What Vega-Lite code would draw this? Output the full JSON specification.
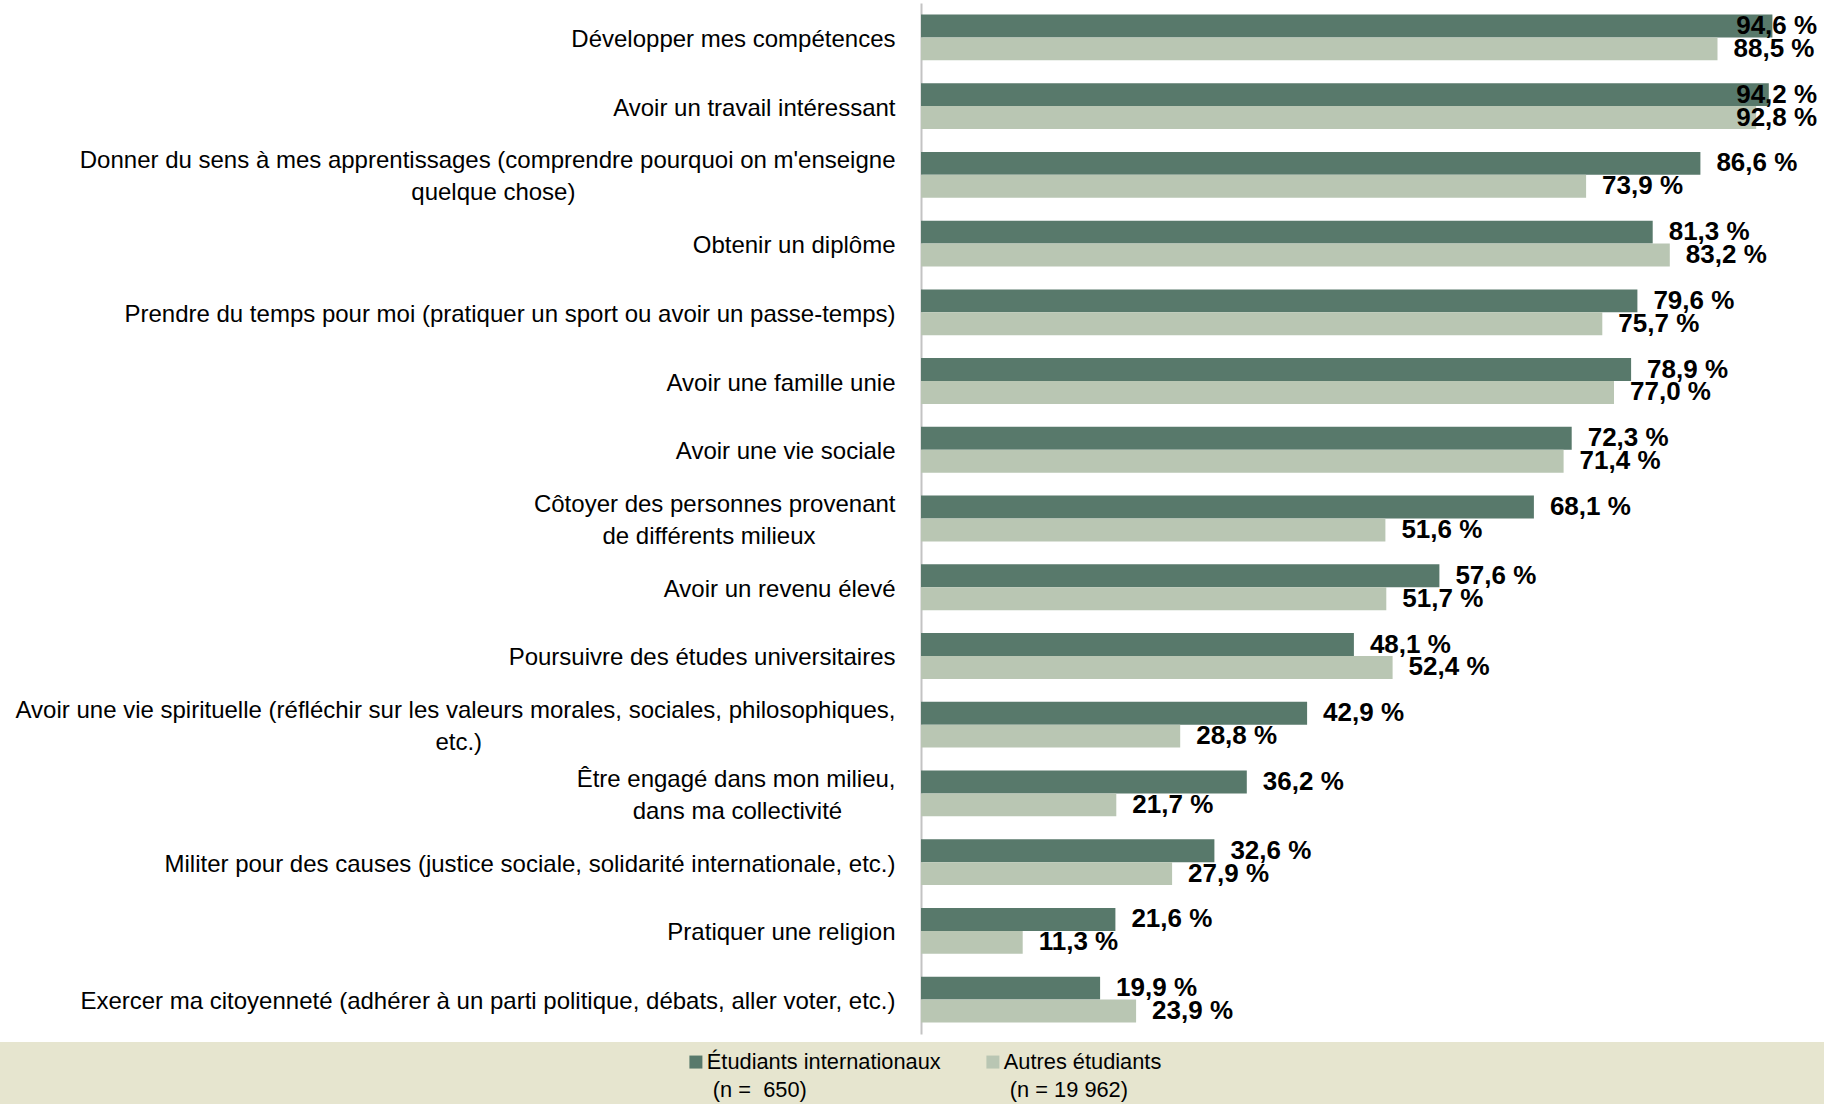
{
  "$schema": "https://vega.github.io/schema/vega-lite/v6.json",
  "padding": {"left": 0, "top": 3, "right": 0, "bottom": 0},
  "spacing": 8,
  "config": {
    "font": "Liberation Sans",
    "view": {"stroke": null},
    "locale": {"number": {"decimal": ",", "thousands": " ", "grouping": [3], "currency": ["", " %"]}}
  },
  "datasets": {
    "d": [
      {"cat": "Développer mes compétences", "series": "Étudiants internationaux", "v": 94.6},
      {"cat": "Développer mes compétences", "series": "Autres étudiants", "v": 88.5},
      {"cat": "Avoir un travail intéressant", "series": "Étudiants internationaux", "v": 94.2},
      {"cat": "Avoir un travail intéressant", "series": "Autres étudiants", "v": 92.8},
      {"cat": "Donner du sens à mes apprentissages (comprendre pourquoi on m'enseigne\nquelque chose)", "series": "Étudiants internationaux", "v": 86.6},
      {"cat": "Donner du sens à mes apprentissages (comprendre pourquoi on m'enseigne\nquelque chose)", "series": "Autres étudiants", "v": 73.9},
      {"cat": "Obtenir un diplôme", "series": "Étudiants internationaux", "v": 81.3},
      {"cat": "Obtenir un diplôme", "series": "Autres étudiants", "v": 83.2},
      {"cat": "Prendre du temps pour moi (pratiquer un sport ou avoir un passe-temps)", "series": "Étudiants internationaux", "v": 79.6},
      {"cat": "Prendre du temps pour moi (pratiquer un sport ou avoir un passe-temps)", "series": "Autres étudiants", "v": 75.7},
      {"cat": "Avoir une famille unie", "series": "Étudiants internationaux", "v": 78.9},
      {"cat": "Avoir une famille unie", "series": "Autres étudiants", "v": 77.0},
      {"cat": "Avoir une vie sociale", "series": "Étudiants internationaux", "v": 72.3},
      {"cat": "Avoir une vie sociale", "series": "Autres étudiants", "v": 71.4},
      {"cat": "Côtoyer des personnes provenant\nde différents milieux", "series": "Étudiants internationaux", "v": 68.1},
      {"cat": "Côtoyer des personnes provenant\nde différents milieux", "series": "Autres étudiants", "v": 51.6},
      {"cat": "Avoir un revenu élevé", "series": "Étudiants internationaux", "v": 57.6},
      {"cat": "Avoir un revenu élevé", "series": "Autres étudiants", "v": 51.7},
      {"cat": "Poursuivre des études universitaires", "series": "Étudiants internationaux", "v": 48.1},
      {"cat": "Poursuivre des études universitaires", "series": "Autres étudiants", "v": 52.4},
      {"cat": "Avoir une vie spirituelle (réfléchir sur les valeurs morales, sociales, philosophiques,\netc.)", "series": "Étudiants internationaux", "v": 42.9},
      {"cat": "Avoir une vie spirituelle (réfléchir sur les valeurs morales, sociales, philosophiques,\netc.)", "series": "Autres étudiants", "v": 28.8},
      {"cat": "Être engagé dans mon milieu,\ndans ma collectivité", "series": "Étudiants internationaux", "v": 36.2},
      {"cat": "Être engagé dans mon milieu,\ndans ma collectivité", "series": "Autres étudiants", "v": 21.7},
      {"cat": "Militer pour des causes (justice sociale, solidarité internationale, etc.)", "series": "Étudiants internationaux", "v": 32.6},
      {"cat": "Militer pour des causes (justice sociale, solidarité internationale, etc.)", "series": "Autres étudiants", "v": 27.9},
      {"cat": "Pratiquer une religion", "series": "Étudiants internationaux", "v": 21.6},
      {"cat": "Pratiquer une religion", "series": "Autres étudiants", "v": 11.3},
      {"cat": "Exercer ma citoyenneté (adhérer à un parti politique, débats, aller voter, etc.)", "series": "Étudiants internationaux", "v": 19.9},
      {"cat": "Exercer ma citoyenneté (adhérer à un parti politique, débats, aller voter, etc.)", "series": "Autres étudiants", "v": 23.9}
    ]
  },
  "vconcat": [
    {
      "spacing": 26,
      "hconcat": [
        {
          "width": 895,
          "height": 1031,
          "data": {"name": "d"},
          "transform": [{"filter": "datum.series == 'Étudiants internationaux'"}],
          "mark": {"type": "point", "opacity": 0},
          "encoding": {
            "y": {
              "field": "cat",
              "type": "nominal",
              "sort": null,
              "scale": {"paddingInner": 0.333, "paddingOuter": 0.1667},
              "axis": {
                "orient": "right",
                "title": null,
                "domain": false,
                "ticks": false,
                "tickSize": 0,
                "grid": false,
                "labelPadding": 0,
                "labelAlign": "right",
                "labelBaseline": "middle",
                "labelFontSize": 24,
                "labelColor": "#000000",
                "labelLimit": 900,
                "labelLineHeight": 32,
                "labelOffset": {"condition": {"test": "indexof(datum.value, '\\n') >= 0", "value": -14}, "value": 2},
                "labelExpr": "length(split(datum.label, '\\n')) > 1 ? [split(datum.label, '\\n')[0], pad(split(datum.label, '\\n')[1], length(split(datum.label, '\\n')[1]) + (indexof(datum.label, 'Donner') == 0 ? 48 : indexof(datum.label, 'Côtoyer') == 0 ? 12 : indexof(datum.label, 'Avoir une vie') == 0 ? 62 : 8), '\u00a0') + '\u200b'] : datum.label"
              }
            }
          }
        },
        {
          "width": 900,
          "height": 1031,
          "data": {"name": "d"},
          "encoding": {
            "y": {
              "field": "cat",
              "type": "nominal",
              "sort": null,
              "scale": {"paddingInner": 0.333, "paddingOuter": 0.1667},
              "axis": {
                "title": null,
                "labels": false,
                "ticks": false,
                "grid": false,
                "domainColor": "#c3c3c3",
                "domainWidth": 2
              }
            },
            "yOffset": {
              "field": "series",
              "type": "nominal",
              "sort": ["Étudiants internationaux", "Autres étudiants"],
              "scale": {"paddingInner": 0, "paddingOuter": 0}
            }
          },
          "layer": [
            {
              "mark": {"type": "bar"},
              "encoding": {
                "x": {"field": "v", "type": "quantitative", "scale": {"domain": [0, 100], "nice": false}, "axis": null},
                "color": {
                  "field": "series",
                  "type": "nominal",
                  "scale": {"domain": ["Étudiants internationaux", "Autres étudiants"], "range": ["#58796b", "#b9c6b3"]},
                  "legend": {
                    "orient": "none",
                    "legendX": 685,
                    "legendY": 1048,
                    "direction": "horizontal",
                    "title": null,
                    "symbolType": "square",
                    "symbolSize": 169,
                    "symbolStrokeWidth": 0,
                    "symbolOpacity": 1,
                    "labelFontSize": 21.8,
                    "labelColor": "#000000",
                    "labelOffset": 0,
                    "labelLimit": 400,
                    "columnPadding": 41,
                    "padding": 0,
                    "zindex": 2,
                    "labelExpr": "datum.label == 'Étudiants internationaux' ? ['Étudiants internationaux', '\u200b (n = \u00a0650)'] : ['Autres étudiants', '\u200b (n = 19 962)']",
                    "encode": {"labels": {"update": {"lineHeight": {"value": 28}}}}
                  }
                }
              }
            },
            {
              "mark": {"type": "text", "align": "left", "baseline": "middle", "dx": 16, "fontWeight": "bold", "fontSize": 26, "color": "#000000"},
              "encoding": {
                "x": {"field": "v", "type": "quantitative", "scale": {"domain": [0, 88.8], "range": [0, 799.2], "clamp": true, "nice": false, "zero": true}, "axis": null},
                "text": {"field": "v", "type": "quantitative", "format": "$.1f"}
              }
            }
          ],
          "resolve": {"scale": {"x": "independent"}}
        }
      ]
    },
    {
      "width": 1824,
      "height": 62,
      "view": {"fill": "#e6e5cf", "stroke": null},
      "data": {"values": [{"t": ""}]},
      "mark": {"type": "text"},
      "encoding": {"text": {"field": "t", "type": "nominal"}}
    }
  ]
}
